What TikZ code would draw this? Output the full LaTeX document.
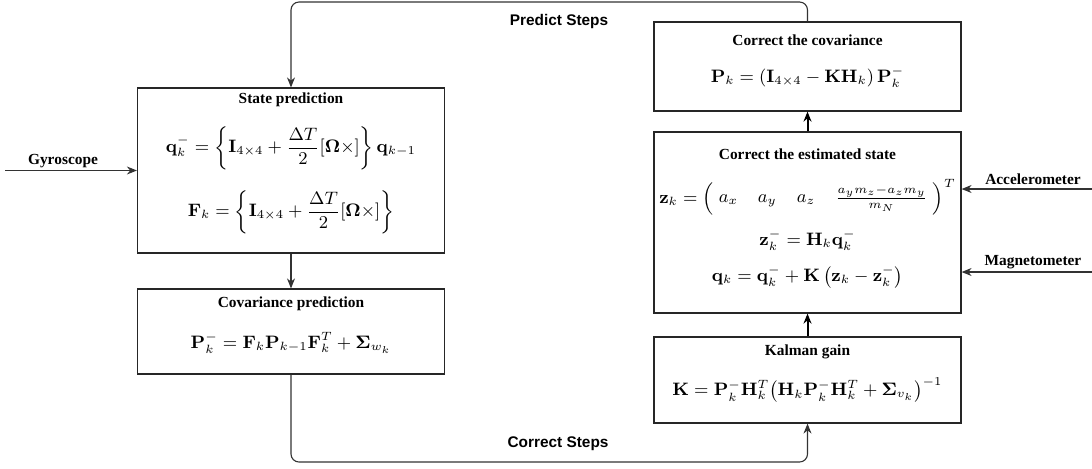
\documentclass[tikz,border=0pt]{standalone}
\usepackage{amsmath,bm}
\usepackage[no-math]{fontspec}
\newfontfamily\ttlfont{Liberation Serif}
\newfontfamily\sanslbl{Liberation Sans}
\usetikzlibrary{arrows.meta,calc}
\begin{document}
\begin{tikzpicture}[x=0.5pt,y=-0.5pt,
  box/.style={draw=black!85,line width=0.6pt,minimum width=153.5pt,inner sep=0pt},
  ttl/.style={font=\ttlfont\bfseries\fontsize{7.7}{9}\selectfont,inner sep=0pt},
  eq/.style={font=\fontsize{8.6}{10}\selectfont,inner sep=0pt},
  lbl/.style={font=\ttlfont\bfseries\fontsize{7.7}{9}\selectfont,inner sep=0pt},
  slbl/.style={font=\sanslbl\bfseries\fontsize{7.7}{9}\selectfont,inner sep=0pt},
  conn/.style={draw=black!80,line width=0.55pt,-{Stealth[length=5pt,width=4pt]}},
  thk/.style={draw=black,line width=1pt,-{Stealth[length=5pt,width=4pt]}},
  loop/.style={conn,rounded corners=4pt}]
\useasboundingbox (0,0) rectangle (1092,468);
% boxes
\node[box,minimum height=82.5pt] (sp) at (291,170.5) {};
\node[box,minimum height=42.5pt] (cp) at (291,331.5) {};
\node[box,minimum height=44.5pt] (cc) at (807.5,66.5) {};
\node[box,minimum height=90.5pt] (es) at (807.5,222.5) {};
\node[box,minimum height=43pt] (kg) at (807.5,380) {};
% state prediction
\node[ttl] (spt) at (291,100) {State prediction};
\node[eq] (spe1) at (291,148) {$\displaystyle \mathbf{q}_k^{-}=\left\{\mathbf{I}_{4\times4}+\frac{\Delta T}{2}[\bm{\Omega}\times]\right\}\mathbf{q}_{k-1}$};
\node[eq] (spe2) at (291,212) {$\displaystyle \mathbf{F}_k=\left\{\mathbf{I}_{4\times4}+\frac{\Delta T}{2}[\bm{\Omega}\times]\right\}$};
% covariance prediction
\node[ttl] (cpt) at (291,304) {Covariance prediction};
\node[eq] (cpe) at (291,343) {$\mathbf{P}_k^{-}=\mathbf{F}_k\mathbf{P}_{k-1}\mathbf{F}_k^{T}+\bm{\Sigma}_{w_k}$};
% correct covariance
\node[ttl] (cct) at (807.5,40) {Correct the covariance};
\node[eq] (cce) at (807.5,77) {$\mathbf{P}_k=\left(\mathbf{I}_{4\times4}-\mathbf{K}\mathbf{H}_k\right)\mathbf{P}_k^{-}$};
% correct estimated state
\node[ttl] (est) at (807.5,154) {Correct the estimated state};
\node[eq] (ese1) at (807.5,197) {$\mathbf{z}_k=\left(\;\begin{matrix} a_x & a_y & a_z & \frac{a_y m_z-a_z m_y}{m_N}\end{matrix}\;\right)^{T}$};
\node[eq] (ese2) at (807.5,240) {$\mathbf{z}_k^{-}=\mathbf{H}_k\mathbf{q}_k^{-}$};
\node[eq] (ese3) at (807.5,277) {$\mathbf{q}_k=\mathbf{q}_k^{-}+\mathbf{K}\,\bigl(\mathbf{z}_k-\mathbf{z}_k^{-}\bigr)$};
% kalman gain
\node[ttl] (kgt) at (807.5,352) {Kalman gain};
\node[eq] (kge) at (807.5,390) {$\mathbf{K}=\mathbf{P}_k^{-}\mathbf{H}_k^{T}\bigl(\mathbf{H}_k\mathbf{P}_k^{-}\mathbf{H}_k^{T}+\bm{\Sigma}_{v_k}\bigr)^{-1}$};
% labels
\node[lbl] (gyl) at (63,161) {Gyroscope};
\node[lbl] (acl) at (1033,179) {Accelerometer};
\node[lbl] (mgl) at (1033,262) {Magnetometer};
\node[slbl] (psl) at (559,22) {Predict Steps};
\node[slbl] (csl) at (558,444) {Correct Steps};
% coordinates
\coordinate (gyin) at (5,170.5);
\coordinate (acin) at (1092,189);
\coordinate (mgin) at (1092,272);
\coordinate (ptop) at (291,2);
\coordinate (cbot) at (807.5,462);
% connectors
\draw[conn] (gyin) -- (sp.west);
\draw[conn] (acin) -- (es.east |- acin);
\draw[conn] (mgin) -- (es.east |- mgin);
\draw[conn] (sp.south) -- (cp.north);
\draw[thk] (kg.north) -- (es.south);
\draw[thk] (es.north) -- (cc.south);
\draw[loop] (cc.north) |- (ptop) -- (sp.north);
\draw[loop] (cp.south) |- (cbot) -- (kg.south);
\end{tikzpicture}
\end{document}
